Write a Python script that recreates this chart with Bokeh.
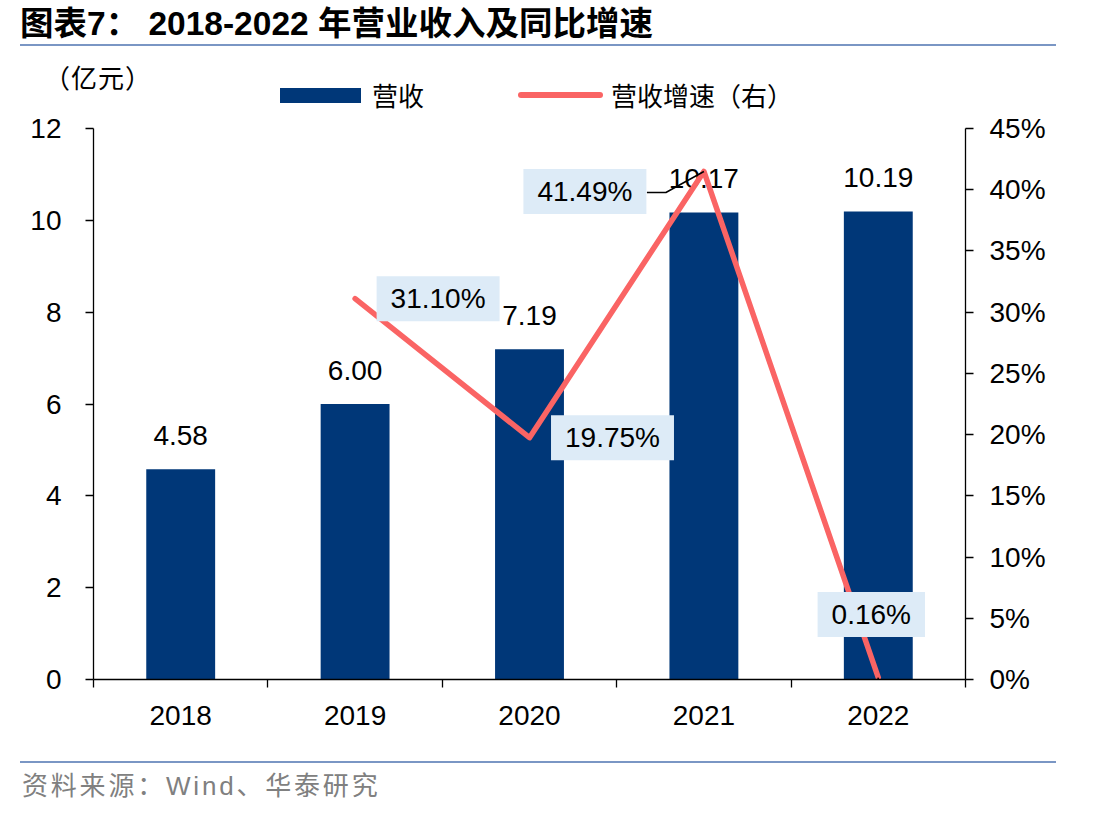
from bokeh.plotting import figure
from bokeh.layouts import column
from bokeh.models import (Range1d, LinearAxis, FixedTicker, PrintfTickFormatter,
                          Label, LabelSet, ColumnDataSource, Div)
from bokeh.core.properties import value
from bokeh.embed import file_html
from bokeh.resources import INLINE

# ---- data ----
years = ["2018", "2019", "2020", "2021", "2022"]
revenue = [4.58, 6.00, 7.19, 10.17, 10.19]          # 亿元
growth_years = ["2019", "2020", "2021", "2022"]
growth = [31.10, 19.75, 41.49, 0.16]                 # %
left_ticks = [0, 2, 4, 6, 8, 10, 12]
right_ticks = [0, 5, 10, 15, 20, 25, 30, 35, 40, 45]

# ---- styling ----
NAVY = "#003778"
RED = "#FA6464"
BOX = "#DDEBF7"
RULE = "#7A96C4"
LAT = "Liberation Sans, Noto Sans CJK SC"
CJK = "Noto Sans CJK SC"
FS = "28px"

W, H = 1113, 816
HDR, FTR = 112, 76                      # header / footer strip heights
MAIN = H - HDR - FTR
FL, FR = 93, 965                        # plot frame left / right
TOP_PAD, FRAME_H = 16, 551
Y_MAX, P_MAX = 12, 45
PX_X = (FR - FL) / len(years)
PX_P = FRAME_H / P_MAX


def text_at(txt, left, cy, size, color="black", font=CJK, weight="normal", spacing=0):
    h = int(size * 1.6)
    return (f'<div style="position:absolute;left:{left}px;top:{cy - h / 2}px;height:{h}px;'
            f'line-height:{h}px;white-space:nowrap;font-family:\'Liberation Sans\',\'{font}\';'
            f'font-size:{size}px;font-weight:{weight};color:{color};letter-spacing:{spacing}px">'
            f'{txt}</div>')


def block_at(left, top, w, h, color, radius=0):
    return (f'<div style="position:absolute;left:{left}px;top:{top}px;width:{w}px;height:{h}px;'
            f'background:{color};border-radius:{radius}px"></div>')


def strip(height, parts):
    html = (f'<div style="position:relative;width:{W}px;height:{height}px;overflow:hidden;'
            f'background:white">' + "".join(parts) + '</div>')
    return Div(text=html, width=W, height=height, margin=0,
               styles={"padding": "0", "margin": "0"})


# ---- header: title, unit, legend ----
hdr = strip(HDR, [
    text_at("图表7： 2018-2022 年营业收入及同比增速", 20, 23, 33.5, weight="bold"),
    block_at(20, 44, 1036, 2, RULE),
    text_at("（亿元）", 44, 79, 26, spacing=1),
    block_at(280, 88, 81, 15, NAVY),
    text_at("营收", 372, 97, 26),
    block_at(518, 92, 85, 6, RED, radius=3),
    text_at("营收增速（右）", 611, 97, 26),
])

# ---- main chart ----
x_of = {y: i + 0.5 for i, y in enumerate(years)}

p = figure(width=W, height=MAIN, x_range=Range1d(0, len(years)), y_range=Range1d(0, Y_MAX),
           output_backend="svg", toolbar_location=None, margin=0,
           min_border_left=FL, min_border_right=W - FR,
           min_border_top=TOP_PAD, min_border_bottom=MAIN - TOP_PAD - FRAME_H)
p.extra_y_ranges = {"pct": Range1d(0, P_MAX)}
p.background_fill_color = "white"
p.border_fill_color = "white"
p.outline_line_color = None
p.xgrid.visible = False
p.ygrid.visible = False


def style_axis(ax, standoff):
    ax.axis_line_color = "black"
    ax.axis_line_width = 1.3
    ax.major_tick_line_color = "black"
    ax.major_tick_line_width = 1.3
    ax.major_tick_in = 0
    ax.major_tick_out = 8
    ax.minor_tick_line_color = None
    ax.major_label_standoff = standoff
    ax.major_label_text_font = LAT
    ax.major_label_text_font_size = FS
    ax.major_label_text_color = "black"


xa = p.xaxis[0]
style_axis(xa, 18)
xa.ticker = FixedTicker(ticks=[x_of[y] for y in years], minor_ticks=list(range(len(years) + 1)))
xa.major_label_overrides = {x_of[y]: y for y in years}
xa.major_tick_out = 0
xa.minor_tick_in = 0
xa.minor_tick_out = 8
xa.minor_tick_line_color = "black"
xa.minor_tick_line_width = 1.3

ya = p.yaxis[0]
style_axis(ya, 24)
ya.ticker = FixedTicker(ticks=left_ticks)

ra = LinearAxis(y_range_name="pct", ticker=FixedTicker(ticks=right_ticks),
                formatter=PrintfTickFormatter(format="%d%%"))
style_axis(ra, 16)
p.add_layout(ra, "right")

# bars with value labels
bars = ColumnDataSource(dict(x=[x_of[y] for y in years], top=revenue,
                             txt=[f"{v:.2f}" for v in revenue]))
p.vbar(x="x", top="top", width=0.395, bottom=0, source=bars,
       fill_color=NAVY, line_color=None)
p.add_layout(LabelSet(x="x", y="top", text="txt", source=bars, level="underlay",
                      y_offset=34, text_align="center", text_baseline="middle",
                      text_font=value(LAT), text_font_size=FS, text_color="black"))

# growth line (right axis)
gx = [x_of[y] for y in growth_years]
p.line(gx, growth, y_range_name="pct", line_color=RED, line_width=5.5,
       line_join="round", line_cap="round")

# leader lines from label boxes to their points (pixel offsets from the point)
leaders = {2: [(-57, -21), (-38, -21), (0, 0)], 3: [(-7, -41), (0, 0)]}
for i, pts in leaders.items():
    p.line([gx[i] + ox / PX_X for ox, oy in pts],
           [growth[i] + oy / PX_P for ox, oy in pts],
           y_range_name="pct", line_color="black", line_width=1.5)

# boxed growth-rate labels
box_offsets = [(83, 0), (83, 0), (-119, -20), (-7, 63)]
for xv, g, (ox, oy) in zip(gx, growth, box_offsets):
    p.add_layout(Label(x=xv, y=g, y_range_name="pct", x_offset=ox, y_offset=oy,
                       text=f"{g:.2f}%", text_align="center", text_baseline="middle",
                       text_font=LAT, text_font_size=FS, text_color="black",
                       background_fill_color=BOX, padding=(14, 7)))

# ---- footer: source note ----
ftr = strip(FTR, [
    block_at(20, 21, 1036, 2, RULE),
    text_at("资料来源：Wind、华泰研究", 22, 46, 26, color="#808080", spacing=2.8),
])

layout = column(hdr, p, ftr, spacing=0)
open("out.html", "w").write(file_html(layout, INLINE))
